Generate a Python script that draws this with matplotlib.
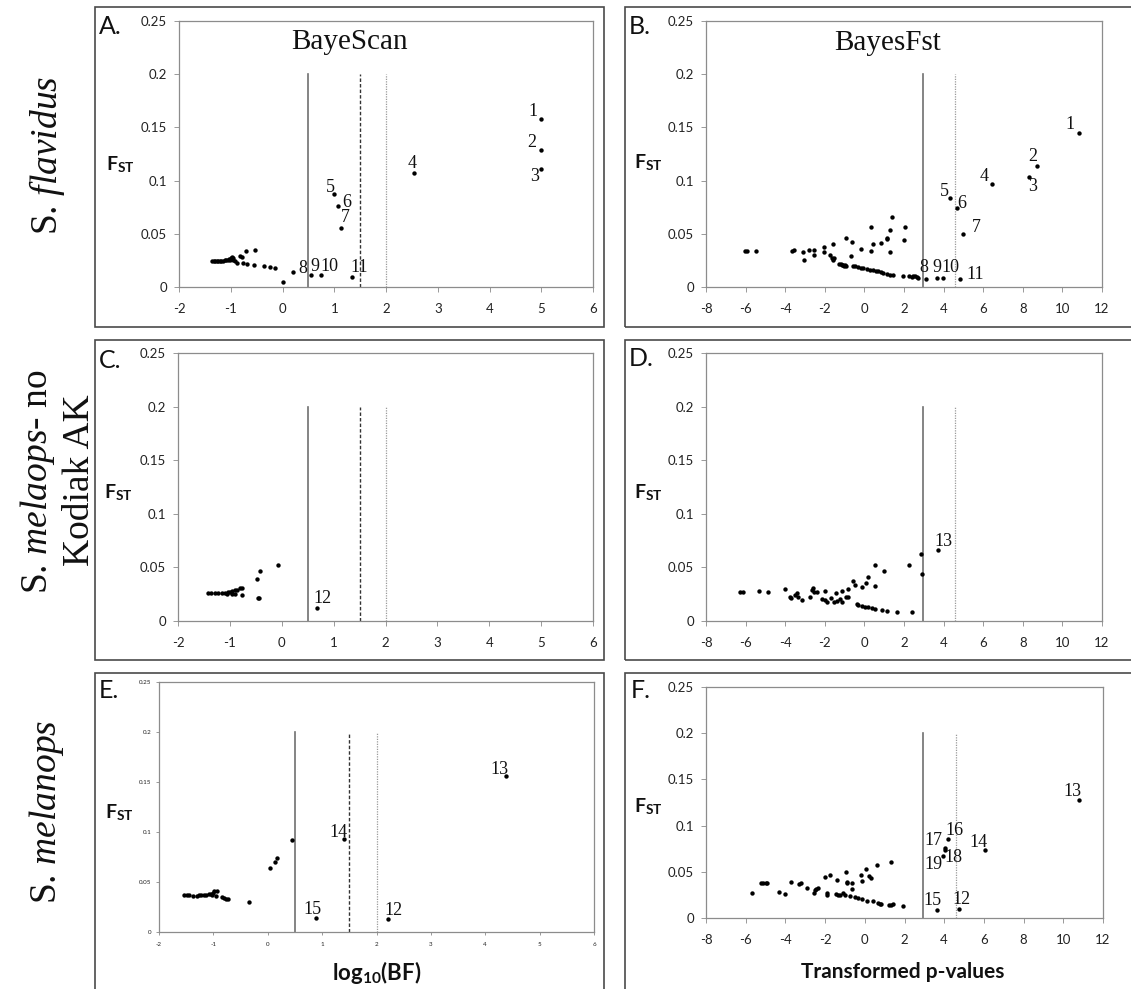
import matplotlib
matplotlib.use("Agg")
import matplotlib.pyplot as plt
from matplotlib.patches import Rectangle

# --- data (x = log10(BF) or transformed p, y = FST) ---
# A. BayeScan, S. flavidus
a_x = [-1.37, -1.33, -1.30, -1.27, -1.24, -1.21, -1.18, -1.15, -1.12, -1.09, -1.06, -1.03, -1.00, -0.98, -0.96,
       -1.02, -0.95, -0.92, -0.885, -0.82, -0.79, -0.756, -0.71, -0.69, -0.56, -0.53, -0.35, -0.24, -0.14, 0.0]
a_y = [0.0244, 0.0244, 0.0244, 0.0244, 0.0244, 0.0245, 0.0246, 0.0248, 0.025, 0.0252, 0.0255, 0.026, 0.027, 0.028, 0.027,
       0.025, 0.025, 0.024, 0.0225, 0.0294, 0.0284, 0.0225, 0.0334, 0.0216, 0.021, 0.0344, 0.0194, 0.0184, 0.0175, 0.005]
a_out_x = [5.0, 5.0, 5.0, 2.545, 1.0, 1.08, 1.13, 0.2, 0.55, 0.74, 1.35]
a_out_y = [0.158, 0.129, 0.111, 0.107, 0.087, 0.076, 0.055, 0.014, 0.011, 0.011, 0.009]
a_out_lab = ["1", "2", "3", "4", "5", "6", "7", "8", "9", "10", "11"]

# B. BayesFst, S. flavidus
b_x = [-6.02, -5.93, -5.48, -3.66, -3.55, -3.12, -2.82, -2.57, -3.04, -2.57, -2.02, -2.02, -1.76, -1.65, -1.60, -1.56,
       -1.60, -0.92, -0.62, -0.67, -0.18, 0.32, 0.42, 0.34, 0.84, 1.13, 1.16, 1.38, 1.31, 1.31, 2.07, 1.98,
       -1.26, -1.20, -1.14, -1.10, -1.02, -0.97, -0.92, -0.59, -0.47, -0.34, -0.18, -0.05, 0.12, 0.29, 0.45, 0.59,
       0.71, 0.82, 0.96, 1.13, 1.29, 1.46, 1.97, 2.25, 2.39, 2.47, 2.55, 2.64, 2.72]
b_y = [0.034, 0.034, 0.034, 0.034, 0.035, 0.033, 0.035, 0.035, 0.025, 0.030, 0.038, 0.033, 0.030, 0.027, 0.025, 0.027,
       0.040, 0.046, 0.042, 0.029, 0.036, 0.056, 0.040, 0.034, 0.041, 0.045, 0.046, 0.066, 0.054, 0.033, 0.056, 0.044,
       0.022, 0.0215, 0.021, 0.021, 0.020, 0.0205, 0.020, 0.020, 0.0194, 0.0188, 0.0181, 0.0178, 0.0172, 0.0163, 0.0156, 0.015,
       0.0147, 0.0138, 0.0131, 0.0125, 0.0116, 0.0113, 0.0106, 0.010, 0.0094, 0.010, 0.0103, 0.0094, 0.0088]
b_out_x = [10.82, 8.74, 8.30, 6.42, 4.30, 4.66, 4.99, 3.10, 3.65, 3.98, 4.82]
b_out_y = [0.145, 0.114, 0.103, 0.097, 0.084, 0.074, 0.050, 0.0075, 0.0084, 0.0084, 0.0075]
b_out_lab = ["1", "2", "3", "4", "5", "6", "7", "8", "9", "10", "11"]

# C. BayeScan, S. melanops without Kodiak AK
c_x = [-1.42, -1.36, -1.29, -1.23, -1.16, -1.10, -1.03, -0.99, -0.95, -0.91, -0.86, -0.81, -0.76,
       -1.06, -0.96, -0.90, -0.76, -0.47, -0.41, -0.07, -0.46, -0.43]
c_y = [0.0265, 0.0265, 0.026, 0.0265, 0.026, 0.0265, 0.027, 0.0274, 0.028, 0.0286, 0.029, 0.0305, 0.0305,
       0.025, 0.025, 0.025, 0.024, 0.039, 0.047, 0.052, 0.0215, 0.0215]
c_out_x = [0.67]
c_out_y = [0.0125]
c_out_lab = ["12"]

# D. BayesFst, S. melanops without Kodiak AK
d_x = [-6.27, -6.13, -5.31, -4.87, -4.03, -3.78, -3.70, -3.50, -3.41, -3.33, -3.13, -2.74, -2.66, -2.60, -2.54,
       -2.40, -2.12, -1.98, -1.87, -1.98, -1.70, -1.56, -1.43, -1.36, -1.23, -1.14, -1.11, -0.92, -0.84, -0.81,
       -0.59, -0.47, -0.39, -0.30, -0.13, 0.08, 0.20, 0.54, 0.54, 0.99, -0.13, 0.03, 0.20, 0.37, 0.54,
       0.87, 1.16, 1.66, 2.39, 2.25, 2.86, 2.89]
d_y = [0.0274, 0.0274, 0.028, 0.0274, 0.0296, 0.0227, 0.0212, 0.0243, 0.0265, 0.0227, 0.020, 0.0227, 0.029, 0.0305, 0.0274,
       0.0268, 0.0205, 0.0193, 0.018, 0.0283, 0.0218, 0.018, 0.0265, 0.0187, 0.0202, 0.0283, 0.0174, 0.0227, 0.0299, 0.0224,
       0.0374, 0.0336, 0.0156, 0.0149, 0.0314, 0.0352, 0.0408, 0.0523, 0.033, 0.047, 0.014, 0.0134, 0.0128, 0.0121, 0.0115,
       0.0103, 0.0096, 0.0087, 0.0087, 0.0523, 0.0626, 0.0436]
d_out_x = [3.73]
d_out_y = [0.0663]
d_out_lab = ["13"]

# E. BayeScan, S. melanops
e_x = [-1.54, -1.48, -1.44, -1.37, -1.31, -1.26, -1.22, -1.18, -1.13, -1.08, -1.04, -1.01, -0.98, -0.94, -0.96,
       -1.02, -0.85, -0.81, -0.76, -0.73, -0.34, 0.04, 0.14, 0.17, 0.44]
e_y = [0.0366, 0.0366, 0.0366, 0.0362, 0.0362, 0.0366, 0.0366, 0.0369, 0.0372, 0.0376, 0.0379, 0.0389, 0.0406, 0.0412, 0.0356,
       0.0366, 0.0346, 0.0339, 0.0332, 0.0329, 0.0296, 0.0645, 0.0705, 0.0738, 0.0921]
e_out_x = [4.39, 1.40, 0.88, 2.22]
e_out_y = [0.156, 0.0928, 0.014, 0.0133]
e_out_lab = ["13", "14", "15", "12"]

# F. BayesFst, S. melanops
f_x = [-5.66, -5.24, -5.13, -5.00, -4.91, -4.32, -4.03, -3.70, -3.31, -3.23, -2.91, -2.57, -2.52, -2.44, -2.35,
       -2.03, -1.76, -1.90, -1.90, -1.41, -1.46, -1.34, -1.26, -1.09, -1.01, -0.96, -0.92, -0.89, -0.76, -0.62,
       -0.62, -0.50, -0.34, -0.17, -0.12, -0.12, 0.05, 0.12, 0.22, 0.30, 0.42, 0.59, 0.69, 0.76, 0.84,
       1.21, 1.31, 1.43, 1.31, 1.90]
f_y = [0.0267, 0.0382, 0.0382, 0.0379, 0.0379, 0.0278, 0.026, 0.0393, 0.0364, 0.0375, 0.0325, 0.0274, 0.0307, 0.0317, 0.0325,
       0.0447, 0.0462, 0.027, 0.0245, 0.0408, 0.0263, 0.0245, 0.0253, 0.0274, 0.0245, 0.0501, 0.039, 0.0375, 0.0238, 0.0382,
       0.0317, 0.0227, 0.0216, 0.0469, 0.0404, 0.0209, 0.0534, 0.0188, 0.0455, 0.0437, 0.018, 0.0577, 0.0162, 0.0155, 0.0155,
       0.0144, 0.0144, 0.0148, 0.0606, 0.013]
f_out_x = [10.81, 6.08, 4.17, 4.03, 4.03, 3.92, 3.65, 4.76]
f_out_y = [0.128, 0.074, 0.0859, 0.0758, 0.074, 0.0667, 0.009, 0.0101]
f_out_lab = ["13", "14", "16", "17", "18", "19", "15", "12"]

fst_ticks = [0, 0.05, 0.1, 0.15, 0.2, 0.25]
fst_ticklabels = ["0", "0.05", "0.1", "0.15", "0.2", "0.25"]
bs_thresholds = [0.5, 1.5, 2.0]    # log10(BF) cut-offs
bf_thresholds = [2.94, 4.6]        # BayesFst cut-offs

W, H, DPI = 1131, 989, 100
plt.rcParams['mathtext.fontset'] = 'custom'
plt.rcParams['mathtext.rm'] = 'Liberation Serif'
plt.rcParams['mathtext.it'] = 'Liberation Serif:italic'
plt.rcParams['mathtext.bf'] = 'Lato:bold'
SANS, SERIF = 'Lato', 'Liberation Serif'

fig = plt.figure(figsize=(W / DPI, H / DPI), dpi=DPI)

def fx(px): return px / W
def fy(py): return 1 - py / H

def box(l, t, r, b):
    fig.add_artist(Rectangle((fx(l), fy(b)), fx(r - l), (b - t) / H, transform=fig.transFigure,
                             fill=False, ec="#4a4a4a", lw=1.2))

def panel(rect, x, y, ox, oy, olab, offs, xlim, xticks, thresholds, styles, fs=9.5):
    l, t, r, b = rect
    ax = fig.add_axes([fx(l), fy(b), fx(r - l), (b - t) / H])
    ax.set_xlim(*xlim); ax.set_ylim(0, 0.25)
    for xv, (ls, col, lw) in zip(thresholds, styles):
        ax.plot([xv, xv], [0, 0.2], ls=ls, color=col, lw=lw, zorder=1)
    ax.scatter(x, y, s=10, color="black", lw=0, zorder=3)
    ax.scatter(ox, oy, s=10, color="black", lw=0, zorder=3)
    for xv, yv, lab in zip(ox, oy, olab):
        ax.annotate(lab, (xv, yv), xytext=offs[lab], textcoords="offset pixels", ha="center", va="center",
                    fontsize=13, family=SERIF, color="#111")
    ax.set_xticks(xticks); ax.set_xticklabels([str(v) for v in xticks])
    ax.set_yticks(fst_ticks); ax.set_yticklabels(fst_ticklabels)
    small = fs < 6
    ax.tick_params(direction="out", length=2.5 if small else 3.5, width=0.7, color="#999",
                   labelsize=fs, labelcolor="#222", pad=3 if small else 5)
    ax.tick_params(axis="x", pad=5 if small else 8)
    for lab in ax.get_xticklabels() + ax.get_yticklabels():
        lab.set_family(SANS)
    for s in ax.spines.values():
        s.set_color("#8c8c8c"); s.set_linewidth(0.9)
    return ax

bs_styles = [("-", "#707070", 1.2), ((0, (2.5, 1.5)), "#333333", 1.0), ((0, (1, 1)), "#9a9a9a", 0.9)]
bf_styles = [("-", "#707070", 1.2), ((0, (1, 1)), "#9a9a9a", 0.9)]

# outer boxes round each panel
for t, b in [(7, 327), (340, 660), (673, 1005)]:
    box(95, t, 604, b)
    box(625, t, 1145, b)

# label offsets in pixels (dx, dy) relative to the point
offs_a = {"1": (-8, 7), "2": (-9, 7), "3": (-7, -8), "4": (-2, 10), "5": (-4, 7), "6": (8, 4), "7": (4, 11),
          "8": (10, 4), "9": (4, 9), "10": (9, 9), "11": (7, 10)}
offs_b = {"1": (-9, 8), "2": (-5, 9), "3": (4, -9), "4": (-7, 7), "5": (-5, 6), "6": (5, 5), "7": (13, 6),
          "8": (-2, 12), "9": (0, 11), "10": (7, 11), "11": (15, 5)}
offs_c = {"12": (6, 9)}
offs_d = {"13": (5, 8)}
offs_e = {"13": (-7, 6), "14": (-5, 7), "15": (-3, 8), "12": (5, 8)}
offs_f = {"13": (-7, 8), "14": (-7, 7), "16": (7, 8), "17": (-11, 7), "18": (9, -8), "19": (-9, -8),
          "15": (-5, 9), "12": (2, 9)}

panel((179, 21, 593, 287), a_x, a_y, a_out_x, a_out_y, a_out_lab, offs_a, (-2, 6), list(range(-2, 7)),
      bs_thresholds, bs_styles)
panel((706, 21, 1102, 287), b_x, b_y, b_out_x, b_out_y, b_out_lab, offs_b, (-8, 12), list(range(-8, 13, 2)),
      bf_thresholds, bf_styles)
panel((178, 353, 593, 621), c_x, c_y, c_out_x, c_out_y, c_out_lab, offs_c, (-2, 6), list(range(-2, 7)),
      bs_thresholds, bs_styles)
panel((706, 353, 1102, 621), d_x, d_y, d_out_x, d_out_y, d_out_lab, offs_d, (-8, 12), list(range(-8, 13, 2)),
      bf_thresholds, bf_styles)
panel((159, 682, 594, 932), e_x, e_y, e_out_x, e_out_y, e_out_lab, offs_e, (-2, 6), list(range(-2, 7)),
      bs_thresholds, bs_styles, fs=4.5)
panel((706, 687, 1103, 918), f_x, f_y, f_out_x, f_out_y, f_out_lab, offs_f, (-8, 12), list(range(-8, 13, 2)),
      bf_thresholds, bf_styles)

# panel letters and FST labels
for lab, px, py in [("A.", 99, 27), ("B.", 629, 26), ("C.", 99, 361), ("D.", 629, 359), ("E.", 99, 691), ("F.", 631, 691)]:
    fig.text(fx(px), fy(py), lab, ha="left", va="center", fontsize=18, family=SANS, color="#111")
for px, py in [(120, 165), (648, 163), (118, 493), (648, 493), (119, 813), (648, 807)]:
    fig.text(fx(px), fy(py), r"$\mathbf{F}_{\mathbf{ST}}$", ha="center", va="center", fontsize=14, color="#111")

fig.text(fx(350), fy(42), "BayeScan", ha="center", va="center", fontsize=21, family=SERIF, color="#111")
fig.text(fx(888), fy(43), "BayesFst", ha="center", va="center", fontsize=21, family=SERIF, color="#111")

fig.text(fx(377), fy(972), r"$\mathbf{log}_{\mathbf{10}}\mathbf{(BF)}$", ha="center", va="center", fontsize=16, color="#111")
fig.text(fx(903), fy(972), "Transformed p-values", ha="center", va="center", fontsize=15, family=SANS,
         weight="bold", color="#111")

# row labels (species)
row_kw = dict(rotation=90, ha="center", va="center", fontsize=27, family=SERIF, color="#111")
fig.text(fx(47), fy(155), r"S. $\mathit{flavidus}$", **row_kw)
fig.text(fx(38), fy(482), r"S. $\mathit{melaops}$- no", **row_kw)
fig.text(fx(80), fy(480), "Kodiak AK", **row_kw)
fig.text(fx(47), fy(812), r"S. $\mathit{melanops}$", **row_kw)

fig.savefig("out.png", dpi=DPI)
